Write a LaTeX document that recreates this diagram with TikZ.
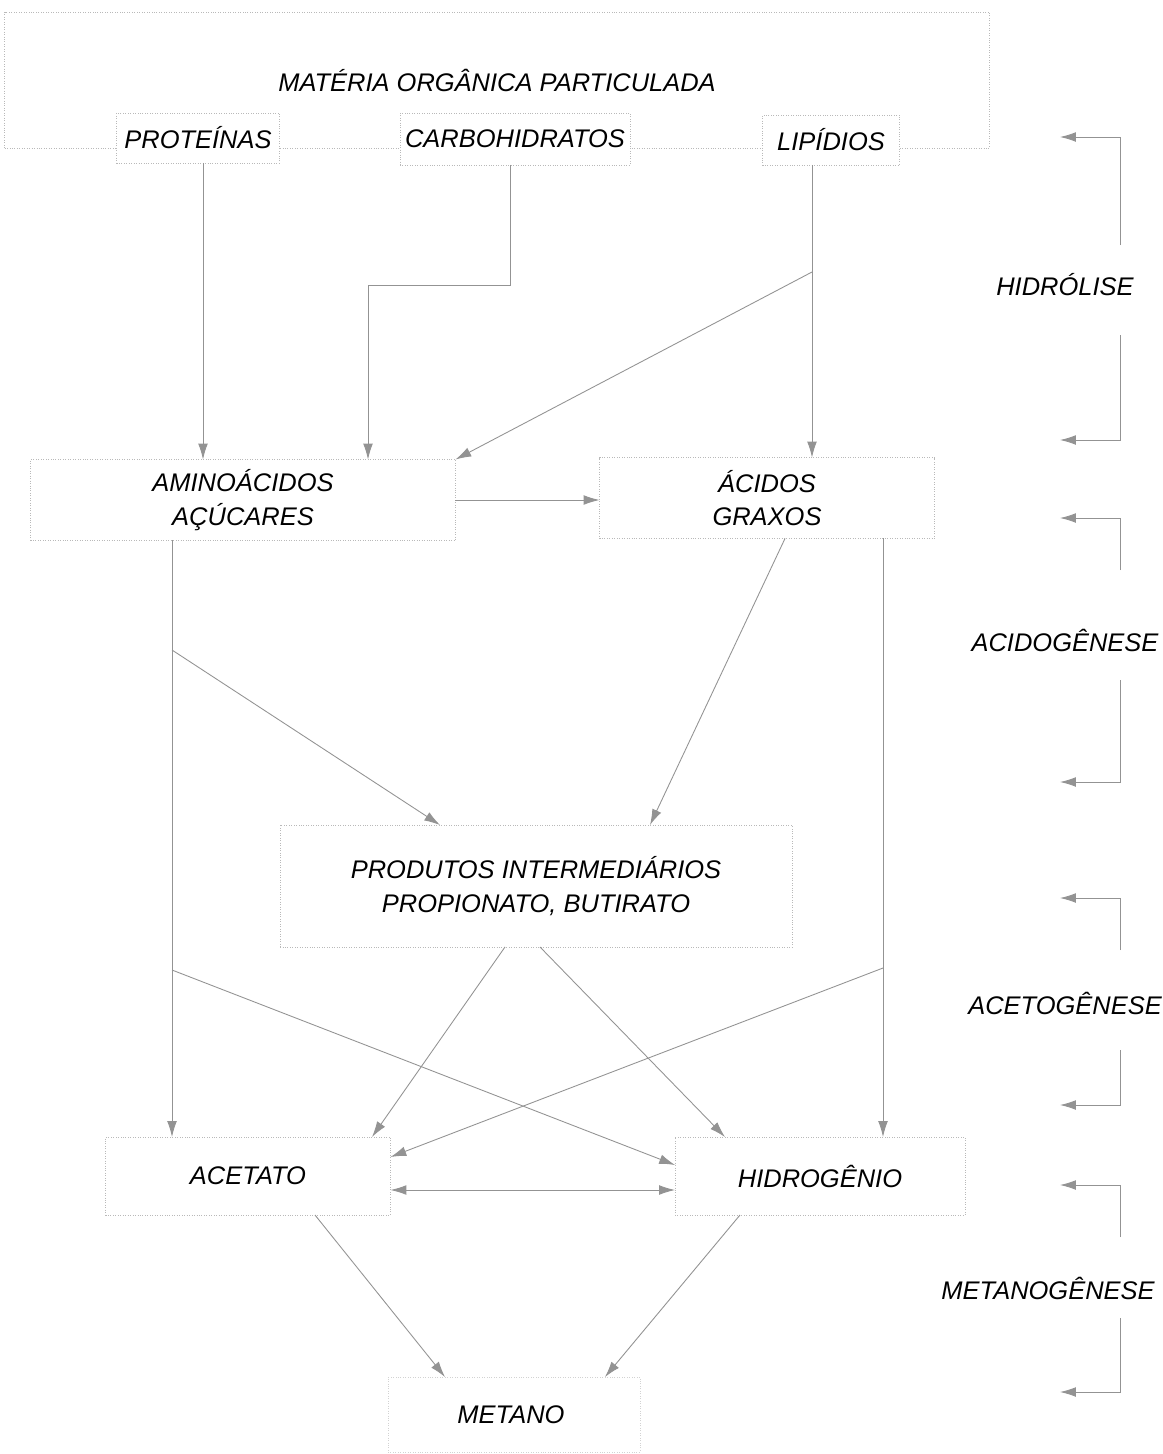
\documentclass[tikz,border=0pt]{standalone}
\usepackage{fontspec}
\setmainfont{Liberation Sans}
\usetikzlibrary{positioning}
\usetikzlibrary{arrows.meta,calc}
\tikzset{
    %Define standard arrow tip
    >={Latex[length=9pt,width=5.5pt]},
    % Define arrow style
    pil/.style={
           ->,
           draw=gray!85,
           line width=0.5pt,}
}
\newcommand{\pxw}{0.02cm}

\begin{document}
\begin{tikzpicture}[x=\pxw, y=-\pxw, outer sep=0pt, font=\fontsize{14.5}{19}\selectfont\itshape]
\tikzstyle{caixa}=[draw=gray!55, densely dotted, rectangle, inner sep=0pt, align=center]
\tikzstyle{fase}=[inner sep=0pt, align=center]

\useasboundingbox (0,0) rectangle (1163,1454);

% materia organica
\node[caixa, minimum width=19.7cm, minimum height=2.72cm] (materia) at (497,80) {MATÉRIA ORGÂNICA PARTICULADA};
\node[caixa, fill=white, minimum width=3.26cm, minimum height=1.0cm] (prot) at (198,138) {PROTEÍNAS};
\node[caixa, fill=white, minimum width=4.6cm, minimum height=1.04cm] (carb) at (515,139) {CARBOHIDRATOS};
\node[caixa, fill=white, minimum width=2.74cm, minimum height=1.0cm] (lip) at (831,140) {LIPÍDIOS};

% produtos
\node[caixa, minimum width=8.5cm, minimum height=1.62cm] (amino) at (243,500) {AMINOÁCIDOS\\AÇÚCARES};
\node[caixa, minimum width=6.7cm, minimum height=1.62cm] (acidos) at (767,498) {ÁCIDOS\\GRAXOS};
\node[caixa, minimum width=10.24cm, minimum height=2.44cm] (interm) at (536,886) {PRODUTOS INTERMEDIÁRIOS\\PROPIONATO, BUTIRATO};
\node[caixa, minimum width=5.7cm, minimum height=1.56cm] (acetato) at (248,1176) {ACETATO};
\node[caixa, minimum width=5.8cm, minimum height=1.56cm] (hidrog) at (820,1176) {HIDROGÊNIO};
\node[caixa, draw=gray!35, minimum width=5.04cm, minimum height=1.5cm, anchor=north] (metano) at (514,1377) {};
\node[fase] (metanotxt) at (511,1415) {METANO};

% pontos de ramificacao
\coordinate (carbA) at (510,285);
\coordinate (carbB) at (368,285);
\coordinate (lipA) at (812,272);
\coordinate (aminoA) at (172,650);
\coordinate (aminoB) at (172,970);
\coordinate (acidA) at (883,968);

% hidrolise / acidogenese
\draw[pil] (prot.south -| 203,0) -- (amino.north -| 203,0);
\draw[pil] (carb.south -| carbA) -- (carbA) -- (carbB) -- (amino.north -| carbB);
\draw[pil] (lip.south -| lipA) -- (acidos.north -| lipA);
\draw[pil] (lipA) -- (amino.north east);
\draw[pil] (amino.east |- 0,500) -- (acidos.west |- 0,500);

% acetogenese
\draw[pil] (amino.south -| aminoA) -- (acetato.north -| aminoA);
\draw[pil] (aminoA) -- (interm.north -| 440,0);
\draw[pil] (aminoB) -- (hidrog.west |- 0,1165);
\draw[pil] (acidos.south -| 785,0) -- (interm.north -| 650,0);
\draw[pil] (acidos.south -| acidA) -- (hidrog.north -| acidA);
\draw[pil] (acidA) -- (acetato.east |- 0,1157);
\draw[pil] (interm.south -| 505,0) -- (acetato.north -| 372,0);
\draw[pil] (interm.south -| 540,0) -- (hidrog.north -| 725,0);

% metanogenese
\draw[pil,<->] (acetato.east |- 0,1190) -- (hidrog.west |- 0,1190);
\draw[pil] (acetato.south -| 315,0) -- (metano.north -| 445,0);
\draw[pil] (hidrog.south -| 740,0) -- (metano.north -| 605,0);

% fases
\node[fase] (hidrol) at (1065,285) {HIDRÓLISE};
\node[fase] (acidog) at (1065,640) {ACIDOGÊNESE};
\node[fase] (acetog) at (1065,1003) {ACETOGÊNESE};
\node[fase] (metanog) at (1048,1288) {METANOGÊNESE};

\coordinate (h1) at (1120,245); \coordinate (h2) at (1120,335);
\coordinate (a1) at (1120,570); \coordinate (a2) at (1120,680);
\coordinate (t1) at (1120,950); \coordinate (t2) at (1120,1050);
\coordinate (m1) at (1120,1237); \coordinate (m2) at (1120,1318);

\draw[pil] (h1) -- (1120,137) -- (1060,137);
\draw[pil] (h2) -- (1120,440) -- (1060,440);
\draw[pil] (a1) -- (1120,518) -- (1060,518);
\draw[pil] (a2) -- (1120,782) -- (1060,782);
\draw[pil] (t1) -- (1120,898) -- (1060,898);
\draw[pil] (t2) -- (1120,1105) -- (1060,1105);
\draw[pil] (m1) -- (1120,1185) -- (1060,1185);
\draw[pil] (m2) -- (1120,1392) -- (1060,1392);

\end{tikzpicture}
\end{document}
